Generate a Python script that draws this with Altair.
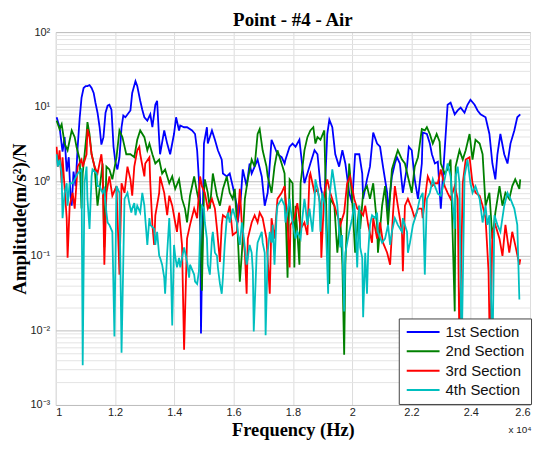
import altair as alt
import pandas as pd

series_names = ["1st Section", "2nd Section", "3rd Section", "4th Section"]
series_colors = ["#0000FF", "#008000", "#FF0000", "#00BFBF"]

# (frequency Hz, amplitude (m/s^2)/N)
s1 = [(10030,7.2),(10130,5.3),(10230,2.5),(10300,3.9),(10370,1.35),(10440,2.1),(10500,0.64),(10540,0.47),(10600,1.35),(10670,0.86),(10740,2.9),(10810,7.2),(10870,13.1),(10940,17.8),(11010,18.9),(11070,18.9),(11140,19.5),(11210,17.8),(11280,15.3),(11340,11.3),(11410,8.3),(11480,5.3),(11540,3.1),(11610,3.9),(11680,8.3),(11750,10.3),(11810,10.6),(11880,9.1),(11950,2.9),(12010,1.83),(12080,1.44),(12150,2.1),(12220,5.3),(12280,7.6),(12350,7.2),(12520,8.9),(12580,15.3),(12690,22),(12750,18.9),(12850,12.0),(12920,9.1),(12990,7.2),(13090,6.5),(13190,7.9),(13260,5.3),(13360,10.6),(13420,12.0),(13490,3.6),(13520,2.3),(13660,4.8),(13760,3.2),(13860,2.3),(13990,4.3),(14060,7.2),(14160,4.8),(14200,5.6),(14330,5.3),(14430,5.3),(14600,4.8),(14700,4.3),(14770,2.6),(14870,0.58),(14900,0.0091),(14970,0.58),(15000,3.2),(15100,5.3),(15130,3.2),(15270,4.8),(15370,3.6),(15470,2.6),(15600,1.95),(15640,1.27),(15770,1.16),(15870,1.27),(15970,0.86),(16110,0.47),(16140,0.28),(16240,0.58),(16310,1.44),(16440,0.86),(16540,1.73),(16610,1.27),(16710,1.57),(16810,1.95),(16950,1.16),(17050,0.47),(17150,0.70),(17280,3.6),(17380,2.9),(17480,2.3),(17620,2.1),(17720,1.73),(17750,1.95),(17890,2.9),(17990,3.2),(18090,2.9),(18220,3.6),(18320,1.57),(18390,0.94),(18490,1.27),(18590,1.73),(18730,2.6),(18830,2.3),(18930,0.86),(19060,0.51),(19160,4.3),(19230,6.7),(19330,5.3),(19430,2.3),(19560,1.57),(19670,2.6),(19770,1.73),(19900,0.70),(20000,0.51),(20100,2.3),(20240,2.3),(20340,1.27),(20370,0.58),(20500,1.06),(20600,1.57),(20710,4.5),(20840,3.2),(20940,2.9),(21040,1.57),(21180,0.70),(21210,0.38),(21340,1.16),(21440,1.73),(21510,2.1),(21610,1.73),(21710,0.70),(21850,1.57),(21910,2.9),(22010,2.6),(22110,1.06),(22220,0.58),(22350,1.73),(22380,4.5),(22520,4.3),(22620,3.2),(22690,2.3),(22790,1.73),(22890,1.83),(22990,0.43),(23120,2.6),(23220,10.6),(23320,11.3),(23460,7.9),(23560,8.9),(23660,9.7),(23790,8.3),(23890,10.6),(23990,12.4),(24130,10.6),(24230,8.9),(24330,7.9),(24500,7.2),(24630,4.3),(24730,1.73),(24830,1.06),(24900,2.3),(25000,4.3),(25130,2.3),(25240,1.73),(25340,3.2),(25470,4.8),(25570,7.2),(25670,7.9)]

s2 = [(10030,6.5),(10130,5.0),(10200,5.8),(10300,3.2),(10400,2.6),(10540,4.8),(10640,3.9),(10700,2.9),(10810,1.95),(10870,0.43),(10910,1.27),(11040,4.3),(11070,6.2),(11140,4.3),(11210,2.3),(11310,1.57),(11410,0.47),(11480,0.79),(11580,1.73),(11640,0.13),(11710,1.57),(11810,1.44),(11910,1.06),(12050,2.1),(12150,4.8),(12250,3.9),(12380,2.3),(12520,2.3),(12650,2.1),(12750,3.6),(12850,4.8),(12990,3.9),(13090,2.6),(13160,3.2),(13260,2.3),(13360,1.73),(13490,1.95),(13590,1.27),(13690,1.44),(13830,0.94),(13930,1.16),(14030,0.79),(14160,1.06),(14260,0.58),(14360,0.43),(14430,0.28),(14530,0.64),(14670,1.16),(14770,0.70),(14870,0.47),(14930,0.034),(15000,0.70),(15030,1.06),(15130,0.70),(15200,0.43),(15300,1.27),(15440,0.64),(15540,0.47),(15640,0.79),(15770,1.16),(15870,0.70),(15970,0.58),(16040,0.79),(16140,0.19),(16210,0.045),(16280,0.11),(16380,0.58),(16480,1.06),(16610,1.95),(16710,1.57),(16810,4.3),(16880,5.0),(16980,2.6),(17110,1.57),(17150,1.16),(17280,0.70),(17380,1.57),(17480,2.6),(17620,1.73),(17720,1.27),(17750,0.47),(17820,0.051),(17890,1.06),(17990,0.94),(18050,0.070),(18090,0.47),(18220,0.076),(18260,0.94),(18390,2.6),(18490,3.9),(18590,4.8),(18690,5.3),(18760,3.2),(18830,3.9),(18930,3.6),(19060,4.8),(19090,1.57),(19160,0.13),(19230,0.042),(19260,0.58),(19400,0.47),(19500,0.11),(19600,0.32),(19670,0.076),(19730,0.0047),(19770,0.076),(19900,1.73),(20000,0.58),(20100,0.11),(20240,0.47),(20270,0.23),(20370,0.70),(20500,0.86),(20600,0.58),(20710,0.94),(20840,0.26),(20870,0.11),(21010,0.47),(21110,0.86),(21210,0.26),(21340,1.44),(21440,1.95),(21540,2.6),(21680,1.95),(21780,1.73),(21880,1.16),(22010,0.70),(22110,1.57),(22220,2.1),(22350,5.0),(22450,4.8),(22520,5.3),(22620,4.3),(22720,3.2),(22850,4.3),(22950,3.4),(22990,1.73),(23120,1.27),(23220,1.44),(23320,1.95),(23460,0.018),(23490,1.57),(23620,2.6),(23730,1.95),(23830,2.6),(23960,4.3),(24060,1.95),(24160,3.6),(24300,3.2),(24400,2.3),(24500,0.47),(24630,0.70),(24730,0.17),(24830,0.38),(24970,0.86),(25070,0.47),(25170,0.70),(25300,0.58),(25400,0.86),(25500,1.06),(25640,0.79),(25670,1.06)]

s3 = [(10030,2.9),(10070,1.57),(10130,2.6),(10200,0.94),(10230,2.1),(10370,0.32),(10400,0.094),(10470,0.47),(10570,0.70),(10640,0.43),(10740,1.57),(10870,1.95),(10910,1.57),(11040,2.3),(11070,5.0),(11140,3.9),(11210,2.3),(11310,1.57),(11410,1.27),(11540,2.3),(11580,1.57),(11640,0.076),(11710,0.70),(11810,1.16),(11910,0.64),(12050,0.86),(12150,0.056),(12220,0.94),(12320,0.70),(12420,1.57),(12520,1.06),(12580,0.64),(12650,1.57),(12750,2.6),(12820,2.9),(12850,2.3),(12990,1.16),(13020,1.73),(13160,2.1),(13190,0.94),(13260,0.26),(13320,0.14),(13360,0.35),(13490,0.70),(13520,1.16),(13660,0.70),(13760,0.35),(13830,0.64),(13930,0.47),(14030,0.28),(14090,0.21),(14160,0.38),(14260,0.14),(14330,0.0055),(14430,0.17),(14530,0.26),(14670,0.43),(14770,0.32),(14870,1.16),(14930,0.86),(15030,0.70),(15130,0.43),(15270,0.58),(15370,0.43),(15440,0.23),(15540,0.083),(15600,0.26),(15640,0.35),(15770,0.32),(15870,0.47),(15970,0.19),(16110,0.21),(16210,0.79),(16280,0.26),(16380,0.11),(16440,0.031),(16480,0.17),(16610,0.28),(16710,0.35),(16810,0.28),(16880,0.38),(16980,0.32),(17110,0.17),(17220,0.031),(17280,0.32),(17380,0.17),(17480,0.58),(17620,0.70),(17720,0.86),(17820,0.28),(17890,0.070),(17920,0.26),(18050,0.32),(18150,0.51),(18260,0.23),(18390,0.28),(18490,0.19),(18560,1.16),(18590,1.27),(18730,0.70),(18830,0.79),(18930,0.47),(18960,0.094),(19060,0.70),(19160,1.06),(19260,0.70),(19400,0.47),(19500,0.35),(19600,0.26),(19730,0.38),(19830,0.94),(19930,1.16),(20070,0.58),(20170,0.43),(20270,0.40),(20370,0.35),(20440,0.47),(20540,0.26),(20670,0.15),(20710,0.32),(20840,0.17),(20940,0.28),(21040,0.15),(21180,0.11),(21280,0.076),(21380,0.38),(21440,0.86),(21540,0.47),(21680,0.21),(21710,0.062),(21780,0.47),(21880,0.58),(22010,0.43),(22110,0.32),(22220,0.43),(22350,0.43),(22380,0.32),(22520,0.94),(22550,1.16),(22690,0.86),(22790,0.94),(22890,0.94),(22990,1.44),(23120,0.86),(23220,0.70),(23320,0.58),(23460,0.86),(23560,0.58),(23620,0.005),(23730,0.94),(23830,1.95),(23960,2.1),(24060,0.94),(24160,0.70),(24300,0.64),(24400,0.47),(24500,0.32),(24600,0.062),(24650,0.004),(24730,0.21),(24830,0.26),(24970,0.17),(25070,0.10),(25170,0.26),(25300,0.11),(25400,0.21),(25500,0.14),(25640,0.076),(25670,0.09)]

s4 = [(10030,2.3),(10070,1.57),(10130,1.95),(10200,1.27),(10230,0.32),(10300,0.70),(10370,0.94),(10400,0.47),(10470,0.94),(10570,0.94),(10640,1.06),(10740,1.27),(10870,1.44),(10910,0.0034),(10970,0.94),(11040,1.57),(11070,0.58),(11140,0.23),(11210,1.16),(11240,1.44),(11380,1.27),(11410,0.86),(11480,0.86),(11580,0.70),(11640,0.79),(11710,0.38),(11750,0.28),(11810,0.26),(11910,0.21),(11980,0.0083),(12050,0.86),(12150,0.70),(12220,0.0050),(12320,0.58),(12420,0.70),(12480,0.51),(12550,0.38),(12580,0.43),(12650,0.51),(12690,0.35),(12750,0.47),(12850,0.38),(12920,0.70),(12990,0.47),(13020,0.32),(13090,0.14),(13160,0.32),(13190,0.26),(13320,0.23),(13360,0.14),(13420,0.21),(13490,0.10),(13520,0.094),(13590,0.076),(13660,0.051),(13690,0.031),(13760,0.11),(13830,0.32),(13860,0.17),(13930,0.0116),(13990,0.14),(14030,0.10),(14090,0.070),(14160,0.094),(14200,0.070),(14330,0.13),(14430,0.083),(14500,0.051),(14530,0.076),(14670,0.056),(14700,0.045),(14770,0.042),(14830,0.062),(14870,0.21),(14930,0.47),(15000,0.43),(15030,0.28),(15100,0.17),(15130,0.076),(15200,0.056),(15270,0.17),(15300,0.21),(15370,0.11),(15440,0.10),(15470,0.070),(15540,0.042),(15600,0.031),(15640,0.051),(15700,0.14),(15770,0.32),(15810,0.38),(15870,0.28),(15970,0.43),(16110,0.28),(16140,0.21),(16210,0.14),(16280,0.28),(16310,0.23),(16380,0.13),(16440,0.076),(16480,0.094),(16540,0.14),(16610,0.11),(16650,0.062),(16680,0.0097),(16780,0.11),(16810,0.15),(16950,0.21),(16980,0.15),(17050,0.11),(17080,0.0086),(17150,0.11),(17220,0.21),(17280,0.15),(17320,0.26),(17380,0.076),(17450,0.35),(17480,0.47),(17620,0.58),(17720,0.47),(17750,0.28),(17890,0.58),(17920,0.43),(17990,0.28),(18090,0.17),(18150,0.21),(18260,0.17),(18320,0.32),(18390,0.58),(18420,0.47),(18490,0.26),(18560,0.43),(18660,0.21),(18730,0.51),(18760,1.06),(18830,0.79),(18890,0.58),(18930,0.21),(18990,0.70),(19090,0.47),(19190,0.031),(19230,0.58),(19330,1.44),(19400,0.94),(19500,0.47),(19600,0.13),(19660,0.19),(19730,0.018),(19770,0.11),(19900,0.21),(20000,0.32),(20070,0.51),(20100,0.35),(20170,0.070),(20240,0.47),(20270,0.13),(20340,0.094),(20370,0.015),(20440,0.11),(20500,0.031),(20540,0.11),(20600,0.26),(20670,0.35),(20770,0.32),(20840,0.38),(20870,0.21),(21010,0.15),(21110,0.17),(21210,0.26),(21280,0.14),(21340,0.21),(21440,0.32),(21540,0.26),(21680,0.21),(21710,0.32),(21850,0.21),(21880,0.11),(21950,0.15),(22050,0.26),(22180,0.38),(22280,0.58),(22380,0.70),(22450,0.056),(22520,0.58),(22620,0.70),(22720,1.06),(22790,0.86),(22890,0.68),(22990,0.64),(23120,1.06),(23220,1.73),(23320,1.16),(23460,0.23),(23490,1.16),(23560,1.57),(23620,0.94),(23690,0.004),(23790,1.16),(23890,1.95),(23990,0.94),(24060,0.70),(24160,0.86),(24300,0.58),(24400,0.28),(24500,0.47),(24560,0.26),(24630,0.35),(24730,0.004),(24800,0.35),(24900,0.26),(25000,0.21),(25130,0.47),(25240,0.70),(25340,0.58),(25470,0.43),(25570,0.26),(25640,0.026)]

x_ticks = [10000, 12000, 14000, 16000, 18000, 20000, 22000, 24000, 26000]
y_major = [0.001, 0.01, 0.1, 1, 10, 100]
y_ticks = [m * d for d in [0.001, 0.01, 0.1, 1, 10] for m in range(1, 10)] + [100]
y_labels = ["10\u207b\u00b3", "10\u207b\u00b2", "10\u207b\u00b9", "10\u2070", "10\u00b9", "10\u00b2"]

label_expr = " : ".join(
    f"datum.value == {v} ? '{t}'" for v, t in zip(y_major, y_labels)
) + " : ''"
major_test = "indexof([" + ",".join(str(v) for v in y_major) + "], datum.value) >= 0"

frames = []
for name, pts in zip(series_names, [s1, s2, s3, s4]):
    df = pd.DataFrame(pts, columns=["freq", "amp"])
    df["series"] = name
    frames.append(df)

W, H = 477, 375

color = alt.Color(
    "series:N",
    scale=alt.Scale(domain=series_names, range=series_colors),
    legend=alt.Legend(
        title=None,
        orient="none",
        legendX=345,
        legendY=288,
        fillColor="white",
        strokeColor="#444444",
        padding=6,
        cornerRadius=0,
        labelFont="Liberation Sans",
        labelFontSize=15,
        labelColor="#111111",
        labelOffset=26,
        symbolType="M-1,0L5,0",
        symbolSize=121,
        symbolStrokeWidth=2,
        rowPadding=3.5,
    ),
)

x_enc = alt.X(
    "freq:Q",
    scale=alt.Scale(domain=[10000, 26000], nice=False, zero=False),
    axis=alt.Axis(
        values=x_ticks,
        labelExpr="'' + datum.value / 10000",
        grid=True,
        gridColor="#dcdcdc",
        ticks=False,
        domain=False,
        labelFont="Liberation Sans",
        labelFontSize=11,
        labelColor="#222222",
        labelPadding=2,
        title="Frequency (Hz)",
        titleFont="Liberation Serif",
        titleFontSize=18.5,
        titleFontWeight="bold",
        titleColor="black",
        titleX=W / 2,
        titleY=31,
        titleAlign="center",
        titleBaseline="alphabetic",
    ),
)

y_enc = alt.Y(
    "amp:Q",
    scale=alt.Scale(type="log", domain=[0.001, 100], nice=False),
    axis=alt.Axis(
        values=y_ticks,
        labelExpr=label_expr,
        labelOverlap=False,
        grid=True,
        gridColor={"condition": {"test": major_test, "value": "#bdbdbd"}, "value": "#e4e4e4"},
        ticks=False,
        domain=False,
        labelFont="Liberation Sans",
        labelFontSize=11,
        labelColor="#222222",
        labelPadding=6,
        title="Amplitude(m/s\u00b2)/N",
        titleFont="Liberation Serif",
        titleFontSize=19,
        titleFontWeight="bold",
        titleColor="black",
        titleAngle=270,
        titleX=-30,
        titleY=H / 2,
        titleAlign="center",
        titleBaseline="alphabetic",
    ),
)

layers = [
    alt.Chart(df).mark_line(strokeWidth=1.8, clip=True).encode(x=x_enc, y=y_enc, color=color)
    for df in frames
]

exp_text = alt.Chart(pd.DataFrame({"t": ["x 10\u2074"]})).mark_text(
    font="Liberation Sans", fontSize=10, color="#222222", align="center", baseline="middle"
).encode(text="t:N", x=alt.value(467), y=alt.value(H + 25))

chart = alt.layer(*layers, exp_text).properties(
    width=W,
    height=H,
    title=alt.Title(
        "Point - #4 - Air",
        font="Liberation Serif",
        fontSize=19,
        fontWeight="bold",
        color="black",
        anchor="middle",
        frame="group",
        offset=4,
        dy=8,
    ),
    autosize=alt.AutoSizeParams(type="none"),
    padding={"left": 48, "top": 23, "right": 6, "bottom": 35},
).configure_view(stroke="#7a7a7a", strokeWidth=1).configure(background="white")

chart.save("out.html", embed_options={"renderer": "svg", "actions": False})
